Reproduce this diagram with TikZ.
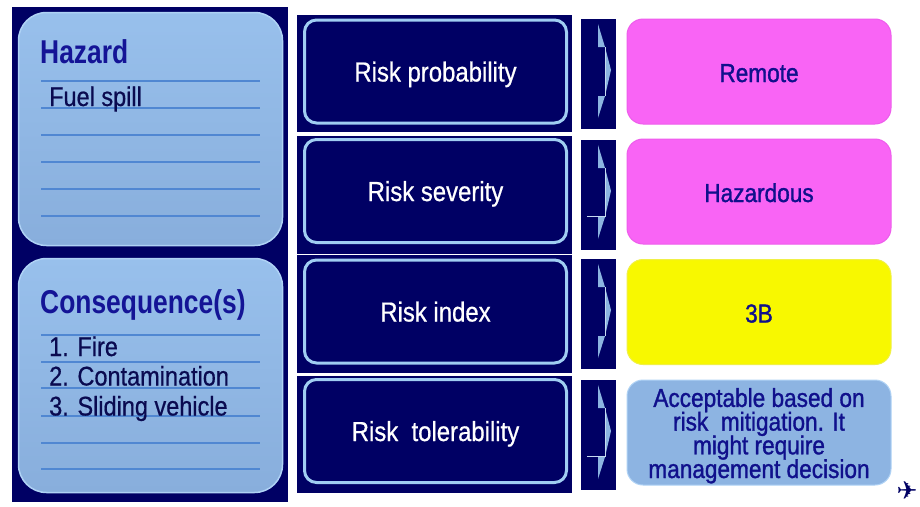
\documentclass[tikz,border=0pt]{standalone}
\usepackage{fontspec}
\setmainfont[FakeStretch=0.87,FakeBold=0.6]{Liberation Sans}
\newfontfamily\titlefont[FakeStretch=0.8]{Liberation Sans Bold}
\newfontfamily\resfont[FakeStretch=0.87,FakeBold=1.2]{Liberation Sans}
\newfontfamily\symfont{DejaVu Sans}
\newcommand\tightls{\lineskiplimit=-100pt\relax}
\definecolor{navy}{RGB}{0,0,100}
\definecolor{boxtop}{RGB}{152,192,236}
\definecolor{boxbot}{RGB}{136,174,220}
\definecolor{boxedge}{RGB}{175,210,245}
\definecolor{ruleblue}{RGB}{80,135,210}
\definecolor{titleblue}{RGB}{20,20,150}
\definecolor{bodynavy}{RGB}{10,10,80}
\definecolor{stepedge}{RGB}{160,205,242}
\definecolor{arrowblue}{RGB}{140,180,225}
\definecolor{pinkbox}{RGB}{249,100,245}
\definecolor{pinkedge}{RGB}{238,92,236}
\definecolor{yellowbox}{RGB}{248,248,0}
\definecolor{yellowedge}{RGB}{240,240,70}
\definecolor{accbox}{RGB}{141,180,226}
\definecolor{resblue}{RGB}{16,16,140}
\tikzset{
  navyblk/.style={rectangle, fill=navy, draw=none, inner sep=0pt},
  notebox/.style={rectangle, rounded corners=28pt, top color=boxtop, bottom color=boxbot,
    draw=boxedge, line width=1.5pt, inner sep=0pt, minimum width=264pt},
  ruleline/.style={draw=ruleblue, line width=1.3pt},
  titletext/.style={anchor=base west, inner sep=0pt, text=titleblue,
    font=\titlefont\fontsize{33}{35}\selectfont},
  bodytext/.style={anchor=base west, inner sep=0pt, text=bodynavy,
    font=\fontsize{27}{30}\selectfont},
  stepbox/.style={rectangle, rounded corners=12pt, fill=navy, draw=stepedge,
    line width=3pt, inner sep=0pt, minimum width=262pt, minimum height=103pt,
    text=white, text height=20pt, text depth=0pt, font=\fontsize{27.5}{30}\selectfont},
  resbox/.style={rectangle, rounded corners=16pt, inner sep=0pt, minimum width=264pt,
    minimum height=105pt, text=resblue, align=center, line width=1pt,
    text height=21pt, text depth=0pt,
    font=\resfont\fontsize{26}{23.7}\selectfont\tightls},
  arrowfill/.style={fill=arrowblue, draw=none},
  arrowline/.style={draw=arrowblue!50!white, line width=0.8pt},
}
\begin{document}
\begin{tikzpicture}[x=1pt,y=-1pt]
\fill[white] (0,0) rectangle (920,506);
\useasboundingbox (0,0) rectangle (920,506);

% left panel
\node[navyblk, minimum width=276pt, minimum height=495pt] (leftpanel) at (150,254.5) {};
\node[notebox, minimum height=233pt] (hazbox) at (150.5,129) {};
\node[notebox, minimum height=234pt] (consbox) at (150.5,375.5) {};
\foreach \yy in {81,108,135,162,189,216,335,362,388,416,443,469}
  \draw[ruleline] (41,\yy) -- (260,\yy);
\node[titletext] (hazt) at (40,63) {Hazard};
\node[bodytext] (fuel) at (49,106) {Fuel spill};
\node[titletext] (const) at (40,313) {Consequence(s)};
\node[bodytext] (c1) at (49,356) {1. Fire};
\node[bodytext] (c2) at (49,385.5) {2. Contamination};
\node[bodytext] (c3) at (49,415.5) {3. Sliding vehicle};

% middle column
\node[navyblk, minimum width=275pt, minimum height=117pt] (m1) at (434.5,73.5) {};
\node[navyblk, minimum width=275pt, minimum height=118pt] (m2) at (434.5,195) {};
\node[navyblk, minimum width=275pt, minimum height=118pt] (m3) at (434.5,314) {};
\node[navyblk, minimum width=275pt, minimum height=117pt] (m4) at (434.5,434.5) {};
\node[stepbox] (s1) at (435.5,71.5) {Risk probability};
\node[stepbox] (s2) at (435.5,191) {Risk severity};
\node[stepbox] (s3) at (435.5,311.5) {Risk index};
\node[stepbox] (s4) at (435.5,431) {Risk\ \ tolerability};

% arrow column
\foreach \t/\nm in {19/a1,140/a2,259/a3,380/a4}{
  \node[navyblk, minimum width=35pt, minimum height=110pt] (\nm) at (598.5,\t+55) {};
  \fill[arrowfill] (598,\t+5) -- (605,\t+28) -- (598,\t+28) -- cycle;
  \fill[arrowfill] (598,\t+77) -- (605,\t+77) -- (598,\t+99) -- cycle;
  \fill[arrowfill] (605,\t+28) -- (611,\t+51) -- (605,\t+77) -- cycle;
  \draw[arrowline] (605,\t+28) -- (605,\t+77);
}
\draw[arrowline] (587,216) -- (605,216);
\draw[arrowline] (587,456) -- (605,456);

% right column
\node[resbox, fill=pinkbox, draw=pinkedge] (r1) at (759,71.5) {Remote};
\node[resbox, fill=pinkbox, draw=pinkedge] (r2) at (759,191.5) {Hazardous};
\node[resbox, fill=yellowbox, draw=yellowedge] (r3) at (759,312) {3B};
\node[resbox, fill=accbox, draw=boxedge, text height=91pt] (r4) at (759,432.5)
  {Acceptable based on\\risk\ \ mitigation. It\\might require\\management decision};

% airplane
\node[inner sep=0pt, anchor=base, text=navy, font=\symfont\fontsize{25}{25}\selectfont] (plane) at (907,499) {✈};
\end{tikzpicture}
\end{document}
